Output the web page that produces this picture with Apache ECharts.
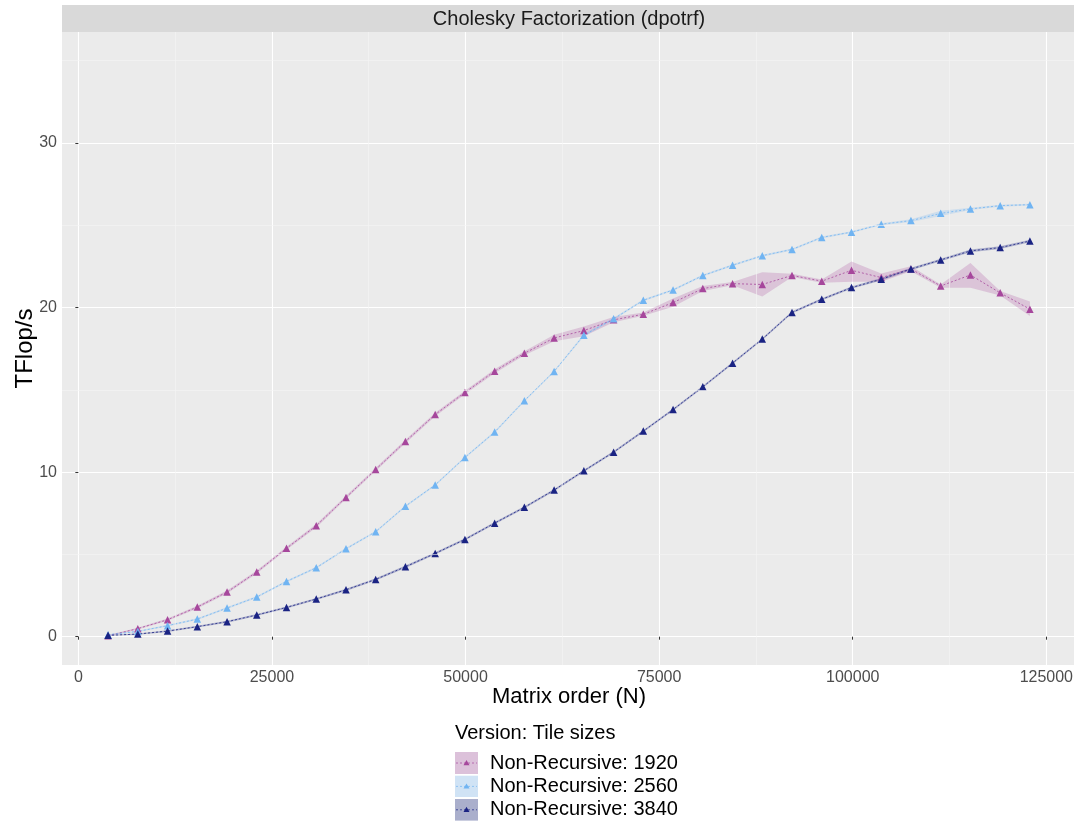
<!DOCTYPE html>
<html>
<head>
<meta charset="utf-8">
<script src="https://cdn.jsdelivr.net/npm/echarts@6/dist/echarts.min.js"></script>
<style>html,body{margin:0;padding:0;background:#fff}#c{width:1074px;height:822px}</style>
</head>
<body>
<div id="c"></div>
<script>
// Matrix order (N)
const N = [3840, 7680, 11520, 15360, 19200, 23040, 26880, 30720, 34560, 38400, 42240, 46080, 49920, 53760, 57600, 61440, 65280, 69120, 72960, 76800, 80640, 84480, 88320, 92160, 96000, 99840, 103680, 107520, 111360, 115200, 119040, 122880];

// Non-Recursive: 1920
const v1920 = [0.06, 0.49, 1.03, 1.80, 2.71, 3.93, 5.37, 6.74, 8.46, 10.16, 11.86, 13.50, 14.84, 16.13, 17.22, 18.15, 18.60, 19.25, 19.59, 20.30, 21.15, 21.45, 21.40, 21.95, 21.60, 22.26, 21.82, 22.34, 21.31, 21.98, 20.89, 19.90];
const hi1920 = [0.10, 0.55, 1.10, 1.88, 2.80, 4.02, 5.46, 6.84, 8.56, 10.26, 11.96, 13.60, 14.95, 16.25, 17.35, 18.35, 18.85, 19.42, 19.70, 20.55, 21.30, 21.55, 22.15, 22.05, 21.70, 22.80, 22.07, 22.50, 21.40, 22.71, 21.00, 20.36];
const lo1920 = [0.02, 0.43, 0.97, 1.72, 2.62, 3.84, 5.28, 6.64, 8.36, 10.06, 11.76, 13.40, 14.73, 16.00, 17.10, 17.95, 18.25, 19.10, 19.50, 20.04, 21.00, 21.35, 20.67, 21.85, 21.50, 21.57, 21.57, 22.20, 21.20, 21.20, 20.73, 19.49];

// Non-Recursive: 2560
const v2560 = [0.12, 0.32, 0.67, 1.07, 1.74, 2.41, 3.36, 4.19, 5.34, 6.38, 7.93, 9.22, 10.89, 12.43, 14.34, 16.12, 18.32, 19.31, 20.44, 21.07, 21.94, 22.57, 23.15, 23.53, 24.26, 24.58, 25.06, 25.28, 25.72, 25.99, 26.19, 26.25];
const hi2560 = [0.15, 0.36, 0.72, 1.12, 1.80, 2.47, 3.42, 4.25, 5.40, 6.44, 7.99, 9.28, 10.95, 12.50, 14.40, 16.18, 18.40, 19.38, 20.50, 21.13, 22.00, 22.63, 23.21, 23.59, 24.32, 24.64, 25.12, 25.36, 25.88, 26.06, 26.25, 26.30];
const lo2560 = [0.09, 0.28, 0.62, 1.02, 1.68, 2.35, 3.30, 4.13, 5.28, 6.32, 7.87, 9.16, 10.83, 12.36, 14.28, 16.06, 18.24, 19.24, 20.38, 21.01, 21.88, 22.51, 23.09, 23.47, 24.20, 24.52, 25.00, 25.20, 25.56, 25.92, 26.13, 26.20];

// Non-Recursive: 3840
const v3840 = [0.08, 0.16, 0.34, 0.61, 0.91, 1.32, 1.78, 2.29, 2.85, 3.48, 4.25, 5.06, 5.91, 6.90, 7.86, 8.91, 10.08, 11.21, 12.49, 13.80, 15.18, 16.62, 18.08, 19.70, 20.50, 21.21, 21.72, 22.34, 22.89, 23.44, 23.64, 24.04];
const hi3840 = [0.11, 0.20, 0.39, 0.66, 0.97, 1.38, 1.84, 2.35, 2.92, 3.55, 4.32, 5.13, 5.98, 6.97, 7.93, 8.98, 10.15, 11.28, 12.56, 13.87, 15.25, 16.69, 18.15, 19.77, 20.57, 21.28, 21.80, 22.42, 22.97, 23.52, 23.72, 24.12];
const lo3840 = [0.05, 0.12, 0.29, 0.56, 0.85, 1.26, 1.72, 2.23, 2.78, 3.41, 4.18, 4.99, 5.84, 6.83, 7.79, 8.84, 10.01, 11.14, 12.42, 13.73, 15.11, 16.55, 18.01, 19.63, 20.43, 21.14, 21.64, 22.26, 22.81, 23.36, 23.56, 23.96];

// Tick labels
const xTicks = [0, 25000, 50000, 75000, 100000, 125000];
const xMinor = [12500, 37500, 62500, 87500, 112500];
const yTicks = [0, 10, 20, 30];
const yMinor = [5, 15, 25, 35];

const names = ['Non-Recursive: 1920', 'Non-Recursive: 2560', 'Non-Recursive: 3840'];
const lineColors = ['#a6479c', '#70b4f2', '#1a2383'];
const ribbonColors = ['rgba(166,71,156,0.24)', 'rgba(112,180,242,0.24)', 'rgba(26,35,131,0.30)'];
const keyFill = ['#dcc1da', '#d0e3f5', '#aaafcc'];
const vals = [v1920, v2560, v3840];
const his = [hi1920, hi2560, hi3840];
const los = [lo1920, lo2560, lo3840];

const FONT = 'Liberation Sans, Arial, sans-serif';

function keyIcon(i) {
  const svg = '<svg xmlns="http://www.w3.org/2000/svg" width="23" height="22" viewBox="0 0 23 22">' +
    '<rect x="0" y="0" width="23" height="22" fill="' + keyFill[i] + '"/>' +
    '<line x1="1" y1="11" x2="22" y2="11" stroke="' + lineColors[i] + '" stroke-width="1" stroke-dasharray="2,2" opacity="0.7"/>' +
    '<polygon points="11.5,8 14.5,13.2 8.5,13.2" fill="' + lineColors[i] + '"/>' +
    '</svg>';
  return 'image://data:image/svg+xml;charset=utf-8,' + encodeURIComponent(svg);
}

function ribbon(i) {
  const lo = los[i], hi = his[i];
  return {
    type: 'custom',
    name: names[i],
    z: 2,
    clip: true,
    silent: true,
    encode: { x: 0, y: [1, 2] },
    data: N.map((x, k) => [x, lo[k], hi[k]]),
    renderItem: function (params, api) {
      if (params.dataIndex !== 0) return null;
      const pts = [];
      for (let k = 0; k < N.length; k++) pts.push(api.coord([N[k], hi[k]]));
      for (let k = N.length - 1; k >= 0; k--) pts.push(api.coord([N[k], lo[k]]));
      return { type: 'polygon', shape: { points: pts }, style: { fill: ribbonColors[i] } };
    }
  };
}

function line(i) {
  return {
    type: 'line',
    name: names[i],
    z: 3,
    data: N.map((x, k) => [x, vals[i][k]]),
    symbol: 'triangle',
    symbolSize: 7.5,
    itemStyle: { color: lineColors[i] },
    lineStyle: { color: lineColors[i], width: 1, type: [2, 2], opacity: 0.8 },
    emphasis: { disabled: true }
  };
}

const chart = echarts.init(document.getElementById('c'), null, { renderer: 'canvas' });
chart.setOption({
  animation: false,
  backgroundColor: '#ffffff',
  textStyle: { fontFamily: FONT },
  graphic: [
    { type: 'rect', left: 62, top: 5, shape: { width: 1014, height: 27 }, style: { fill: '#d9d9d9' }, silent: true, z: -1 }
  ],
  title: [
    { text: 'Cholesky Factorization (dpotrf)', left: 569, top: 9, textAlign: 'center', padding: 0,
      textStyle: { fontSize: 20, fontWeight: 'normal', color: '#1a1a1a', fontFamily: FONT } },
    { text: 'Version: Tile sizes', left: 455, top: 723, padding: 0,
      textStyle: { fontSize: 20, fontWeight: 'normal', color: '#000', fontFamily: FONT } }
  ],
  legend: {
    orient: 'vertical',
    left: 455, top: 752,
    padding: 0,
    itemWidth: 23, itemHeight: 22, itemGap: 1.4,
    selectedMode: false,
    textStyle: { fontSize: 20, lineHeight: 22, color: '#000', fontFamily: FONT, padding: [0, 0, 0, 7] },
    data: names.map((n, i) => ({ name: n, icon: keyIcon(i) }))
  },
  grid: { left: 62, top: 32, width: 1014, height: 633, backgroundColor: '#ebebeb', show: true, borderWidth: 0,
    containLabel: false, outerBoundsMode: 'none' },
  xAxis: {
    type: 'value',
    min: -2112, max: 128832,
    name: 'Matrix order (N)', nameLocation: 'middle', nameGap: 21, nameMoveOverlap: false,
    nameTextStyle: { fontSize: 22, color: '#000', fontFamily: FONT },
    axisLine: { show: false },
    axisTick: { show: true, length: 3, lineStyle: { color: '#333' }, customValues: xTicks },
    axisLabel: { customValues: xTicks, fontSize: 16, color: '#4d4d4d', margin: 5, fontFamily: FONT,
      formatter: function (v) { return String(v); } },
    splitLine: { show: true, lineStyle: { color: '#ffffff', width: 1.1 } }
  },
  yAxis: {
    type: 'value',
    min: -1.72, max: 36.74,
    name: 'TFlop/s', nameLocation: 'middle', nameGap: 25, nameMoveOverlap: false,
    nameTextStyle: { fontSize: 24, color: '#000', fontFamily: FONT },
    axisLine: { show: false },
    axisTick: { show: true, length: 3, lineStyle: { color: '#333' }, customValues: yTicks },
    axisLabel: { customValues: yTicks, fontSize: 16, color: '#4d4d4d', margin: 5, fontFamily: FONT },
    splitLine: { show: true, lineStyle: { color: '#ffffff', width: 1.1 } }
  },
  series: [
    {
      type: 'line', name: 'minor-grid', data: [], z: 1, silent: true,
      markLine: {
        silent: true, symbol: ['none', 'none'], label: { show: false }, animation: false,
        lineStyle: { color: '#f5f5f5', width: 0.6, type: 'solid' },
        emphasis: { disabled: true },
        data: xMinor.map(v => ({ xAxis: v })).concat(yMinor.map(v => ({ yAxis: v })))
      }
    },
    ribbon(0), ribbon(1), ribbon(2),
    line(0), line(1), line(2)
  ]
});
</script>
</body>
</html>
